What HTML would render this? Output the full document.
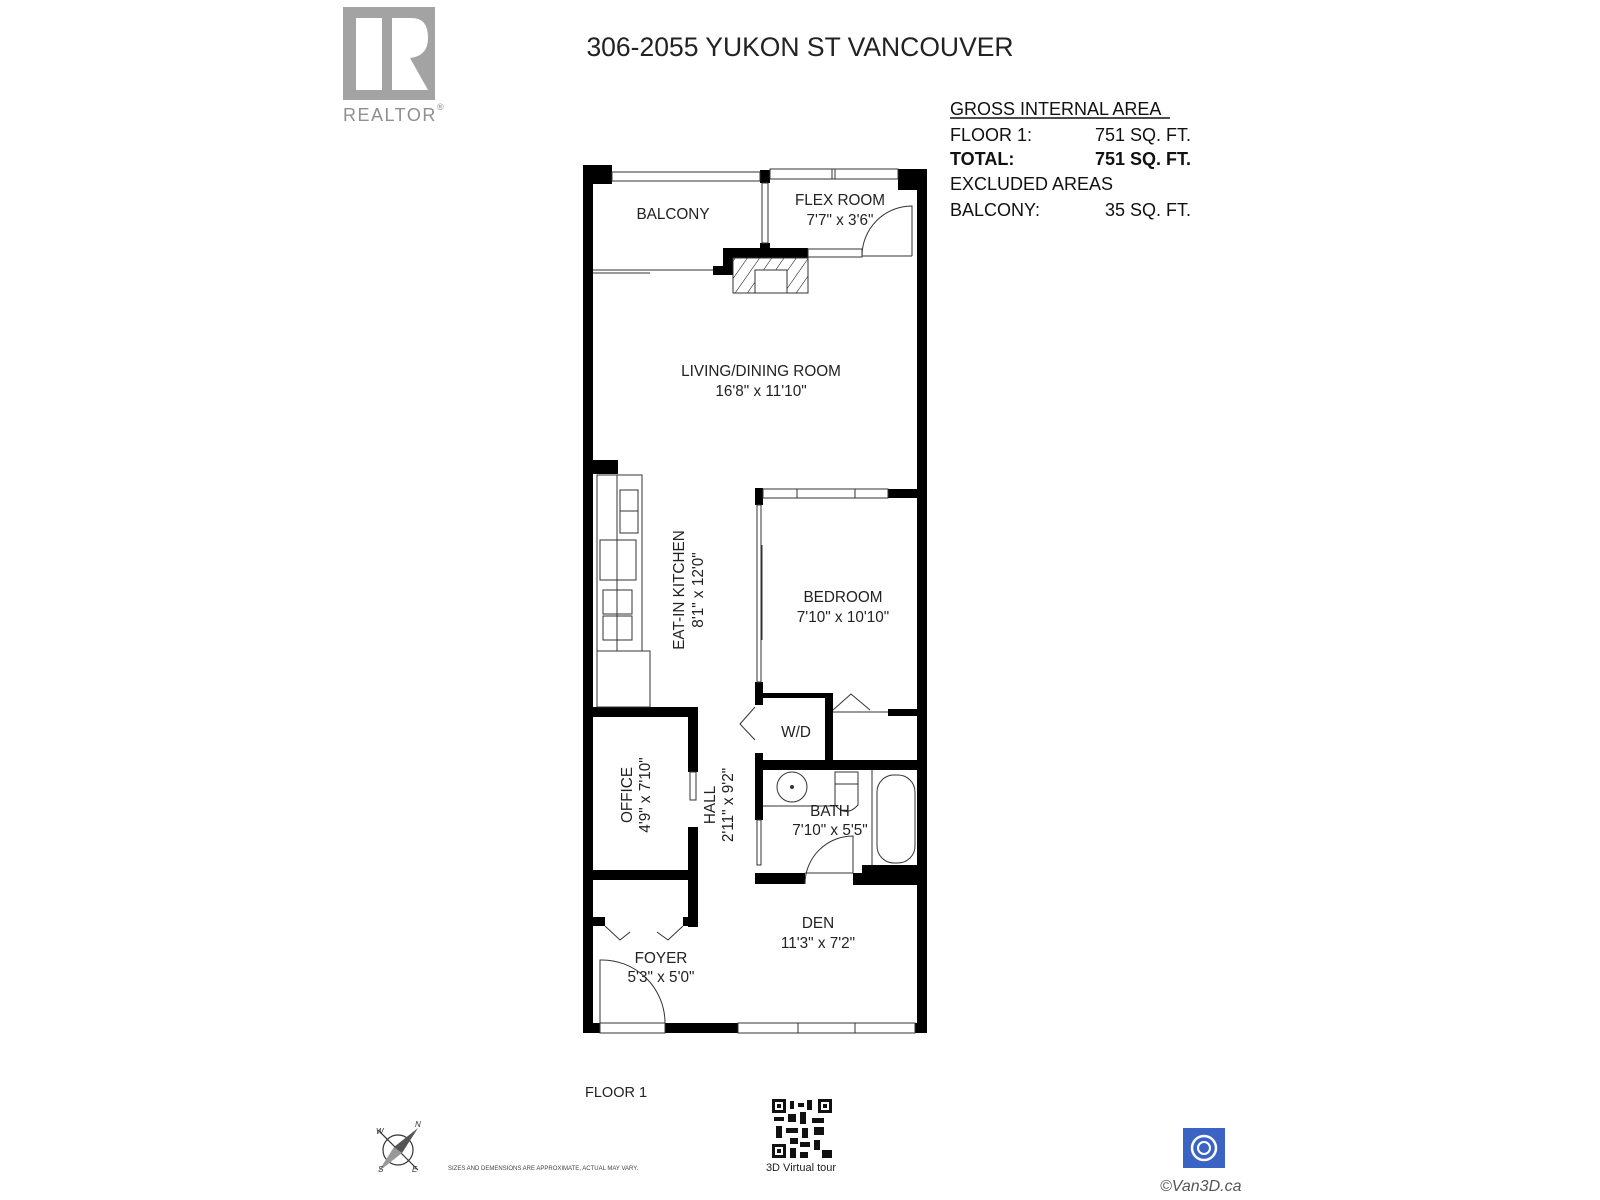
<!DOCTYPE html>
<html><head><meta charset="utf-8"><style>
html,body{margin:0;padding:0;background:#fff;}
svg{display:block;}
text{font-family:"Liberation Sans","DejaVu Sans",sans-serif;}
</style></head><body>
<svg width="1600" height="1200" viewBox="0 0 1600 1200" xmlns="http://www.w3.org/2000/svg">
<defs>
<pattern id="hatch" width="10" height="10" patternUnits="userSpaceOnUse" patternTransform="rotate(35)">
<line x1="0" y1="0" x2="0" y2="10" stroke="#000" stroke-width="1"/>
</pattern>
</defs>
<rect x="343" y="7" width="92" height="93" fill="#a3a3a3"/>
<rect x="356" y="18" width="26" height="72" fill="#fff"/>
<path d="M392 18 H412 Q428 18 428 38 Q428 56 410 58 L428 90 H410 L392 60 Z" fill="#fff"/>
<path d="M392 60 L424 90 H392 Z" fill="#fff"/>
<text x="343" y="121" font-size="18" fill="#8f8f8f" letter-spacing="1.5">REALTOR</text>
<text x="437" y="110" font-size="9" fill="#8f8f8f">®</text>
<text x="800" y="56" font-size="26.5" text-anchor="middle" fill="#222">306-2055 YUKON ST VANCOUVER</text>
<g font-size="18" fill="#111">
<text x="950" y="115">GROSS INTERNAL AREA</text>
<line x1="950" y1="118" x2="1170" y2="118" stroke="#111" stroke-width="1.5"/>
<text x="950" y="141">FLOOR 1:</text><text x="1191" y="141" text-anchor="end">751 SQ. FT.</text>
<text x="950" y="165" font-weight="bold">TOTAL:</text><text x="1191" y="165" text-anchor="end" font-weight="bold">751 SQ. FT.</text>
<text x="950" y="190">EXCLUDED AREAS</text>
<text x="950" y="216">BALCONY:</text><text x="1191" y="216" text-anchor="end">35 SQ. FT.</text>
</g>
<g fill="#000">
<rect x="583" y="165" width="10" height="868"/>
<rect x="583" y="165" width="29" height="19"/>
<rect x="917" y="169" width="10" height="864"/>
<rect x="898" y="169" width="29" height="21"/>
<rect x="583" y="1023" width="17" height="10"/>
<rect x="665" y="1023" width="73" height="10"/>
<rect x="915" y="1023" width="12" height="10"/>
<rect x="760" y="170" width="10" height="13"/>
<rect x="760" y="243" width="10" height="10"/>
<rect x="723" y="248" width="85" height="10"/>
<rect x="723" y="248" width="10" height="27"/>
<rect x="713" y="266" width="20" height="9"/>
<rect x="583" y="460" width="35" height="14"/>
<rect x="755" y="488" width="8" height="17"/>
<rect x="888" y="489" width="30" height="9"/>
<rect x="755" y="682" width="8" height="23"/>
<rect x="583" y="707" width="115" height="10"/>
<rect x="688" y="707" width="10" height="65"/>
<rect x="688" y="827" width="10" height="100"/>
<rect x="583" y="870" width="115" height="10"/>
<rect x="593" y="917" width="12" height="9"/>
<rect x="683" y="917" width="15" height="9"/>
<rect x="763" y="693" width="70" height="5"/>
<rect x="825" y="693" width="8" height="69"/>
<rect x="888" y="709" width="39" height="7"/>
<rect x="755" y="753" width="8" height="67"/>
<rect x="755" y="760" width="172" height="10"/>
<rect x="755" y="873" width="50" height="11"/>
<rect x="853" y="873" width="74" height="12"/>
<rect x="862" y="865" width="65" height="20"/>
</g>
<g fill="none" stroke="#333" stroke-width="1">
<rect x="612" y="172" width="148" height="9"/>
<rect x="762" y="183" width="6" height="60"/>
<rect x="770" y="169" width="128" height="10"/>
<line x1="832" y1="169" x2="832" y2="179"/><line x1="835" y1="169" x2="835" y2="179"/>
<rect x="808" y="249" width="54" height="8"/>
<line x1="862" y1="256" x2="912" y2="256"/>
<path d="M862 256 A50 50 0 0 1 912 206 V256"/>
<line x1="593" y1="270" x2="713" y2="270"/>
<line x1="593" y1="273" x2="650" y2="273"/>
<rect x="733" y="258" width="75" height="35" fill="url(#hatch)"/>
<rect x="755" y="270" width="32" height="23" fill="#fff"/>
<rect x="597" y="475" width="45" height="176"/>
<line x1="617" y1="475" x2="617" y2="651"/>
<rect x="620" y="490" width="18" height="43"/>
<line x1="620" y1="511" x2="638" y2="511"/>
<rect x="603" y="590" width="29" height="24"/><rect x="603" y="616" width="29" height="24"/>
<rect x="600" y="540" width="36" height="40"/>
<rect x="597" y="651" width="53" height="56"/>
<rect x="763" y="489" width="125" height="9"/>
<line x1="797" y1="489" x2="797" y2="498"/><line x1="855" y1="489" x2="855" y2="498"/>
<rect x="757" y="505" width="4" height="177"/>
<line x1="762" y1="545" x2="762" y2="640"/>
<polyline points="833,710 851,694 870,710"/>
<line x1="833" y1="712" x2="888" y2="712"/>
<polyline points="755,707 740,724 755,740"/>
<rect x="690" y="772" width="6" height="28"/>
<polyline points="605,926 620,940 630,932"/>
<polyline points="657,932 668,940 683,926"/>
<rect x="600" y="1023" width="65" height="10"/>
<path d="M600 1023 V960 A63 63 0 0 1 665 1023"/>
<rect x="738" y="1023" width="177" height="10"/>
<line x1="798" y1="1023" x2="798" y2="1033"/><line x1="855" y1="1023" x2="855" y2="1033"/>
<rect x="757" y="820" width="4" height="45"/>
<line x1="805" y1="873" x2="853" y2="873"/>
<path d="M805 884 A48 48 0 0 1 853 836 V873"/>
<circle cx="792" cy="787" r="15"/>
<rect x="835" y="772" width="23" height="12"/>
<path d="M835 784 V805 Q846 818 858 805 V784"/>
<line x1="763" y1="806" x2="835" y2="806"/>
<line x1="872" y1="770" x2="872" y2="865"/>
<rect x="877" y="775" width="38" height="88" rx="17"/>
</g>
<circle cx="792" cy="787" r="2" fill="#333"/>
<g font-size="15.3" fill="#222" text-anchor="middle">
<text x="673" y="219">BALCONY</text>
<text x="840" y="205">FLEX ROOM</text>
<text x="840" y="225">7'7" x 3'6"</text>
<text x="761" y="376">LIVING/DINING ROOM</text>
<text x="761" y="396">16'8" x 11'10"</text>
<text x="843" y="602">BEDROOM</text>
<text x="843" y="622">7'10" x 10'10"</text>
<text x="796" y="737">W/D</text>
<text x="830" y="816">BATH</text>
<text x="830" y="835">7'10" x 5'5"</text>
<text x="818" y="928">DEN</text>
<text x="818" y="948">11'3" x 7'2"</text>
<text x="661" y="963">FOYER</text>
<text x="661" y="982">5'3" x 5'0"</text>
<text transform="translate(684,590) rotate(-90)">EAT-IN KITCHEN</text>
<text transform="translate(703,590) rotate(-90)">8'1" x 12'0"</text>
<text transform="translate(632,795) rotate(-90)">OFFICE</text>
<text transform="translate(650,795) rotate(-90)">4'9" x 7'10"</text>
<text transform="translate(715,805) rotate(-90)">HALL</text>
<text transform="translate(733,805) rotate(-90)">2'11" x 9'2"</text>
</g>
<text x="585" y="1097" font-size="14.5" fill="#222">FLOOR 1</text>
<g stroke="#333" fill="none" stroke-width="1.2">
<circle cx="398" cy="1150" r="15"/>
<line x1="378" y1="1130" x2="418" y2="1170"/>
</g>
<polygon points="418,1128 402,1153 394,1147" fill="#555"/>
<polygon points="378,1172 394,1147 402,1153" fill="#999"/>
<g font-size="8" font-style="italic" fill="#333">
<text x="376" y="1134">W</text><text x="415" y="1127">N</text><text x="378" y="1172">S</text><text x="412" y="1172">E</text>
</g>
<text x="448" y="1170" font-size="6" fill="#444">SIZES AND DEMENSIONS ARE APPROXIMATE, ACTUAL MAY VARY.</text>
<g fill="#111">
<rect x="772" y="1099" width="14" height="14"/><rect x="818" y="1099" width="14" height="14"/><rect x="772" y="1144" width="14" height="14"/>
<rect x="790" y="1101" width="4" height="8"/><rect x="798" y="1103" width="6" height="4"/><rect x="807" y="1100" width="5" height="10"/>
<rect x="774" y="1117" width="10" height="4"/><rect x="788" y="1114" width="8" height="8"/><rect x="800" y="1112" width="6" height="12"/><rect x="812" y="1118" width="12" height="5"/>
<rect x="776" y="1126" width="6" height="12"/><rect x="786" y="1128" width="12" height="5"/><rect x="802" y="1128" width="6" height="10"/><rect x="814" y="1127" width="10" height="8"/>
<rect x="790" y="1138" width="8" height="6"/><rect x="800" y="1142" width="10" height="5"/><rect x="814" y="1140" width="6" height="10"/><rect x="790" y="1148" width="6" height="10"/><rect x="800" y="1152" width="8" height="6"/><rect x="822" y="1150" width="10" height="8"/>
</g>
<g fill="#fff"><rect x="775" y="1102" width="8" height="8"/><rect x="821" y="1102" width="8" height="8"/><rect x="775" y="1147" width="8" height="8"/></g>
<g fill="#111"><rect x="777" y="1104" width="4" height="4"/><rect x="823" y="1104" width="4" height="4"/><rect x="777" y="1149" width="4" height="4"/></g>
<text x="801" y="1171" font-size="11" text-anchor="middle" fill="#222">3D Virtual tour</text>
<rect x="1183" y="1128" width="42" height="40" fill="#3a63c4"/>
<circle cx="1204" cy="1148" r="12" fill="none" stroke="#fff" stroke-width="2.5"/>
<circle cx="1204" cy="1148" r="6" fill="none" stroke="#fff" stroke-width="2"/>
<text x="1160" y="1191" font-size="16" font-style="italic" fill="#555">©Van3D.ca</text>
</svg>
</body></html>
